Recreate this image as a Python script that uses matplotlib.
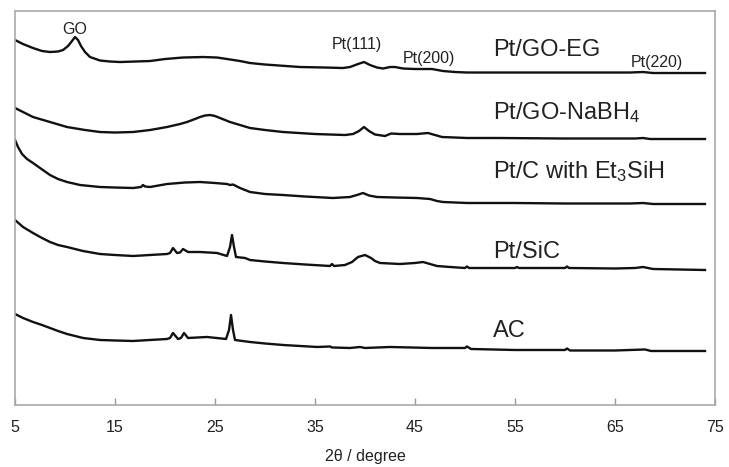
import numpy as np
import matplotlib
matplotlib.use("Agg")
import matplotlib.pyplot as plt

plt.rcParams['font.family'] = ['Liberation Sans', 'DejaVu Sans']
plt.rcParams['mathtext.fontset'] = 'custom'
plt.rcParams['mathtext.rm'] = 'Liberation Sans'
plt.rcParams['mathtext.default'] = 'regular'

# values; intensity in arbitrary (stacked) units
tt_go_eg = [5, 5.8, 6.8, 7.7, 8.5, 9.3, 9.8, 10.3, 10.7, 11, 11.3, 11.6, 12, 12.5, 13.5,
            14.5, 15.5, 17, 18.5, 20, 21.8, 23.8, 25.2, 26.2, 27.5, 28.5, 30, 33.5, 36,
            37.8, 38.5, 39.3, 39.9, 40.5, 41.2, 41.8, 42.5, 43, 43.8, 45, 46.2, 46.7, 47.8,
            49, 50.2, 53.5, 60, 66.5, 67.8, 68.8, 74]
i_go_eg = [365, 361, 357, 354, 353, 353.5, 355, 359, 364, 368, 365, 359, 353, 348, 344.5,
           343.5, 343, 343.5, 344, 346, 347.5, 348, 347.5, 346, 344, 342, 340.5, 338, 337.5,
           337, 338, 341, 343, 340, 337.5, 336.5, 338, 338, 336.5, 336, 336, 336, 334,
           333, 332.5, 332.5, 332.5, 332.5, 333, 332, 332]

tt_nabh4 = [5, 5.8, 6.8, 8.5, 10.2, 12, 13.5, 15, 16.8, 18.5, 20.2, 21.5, 22.2, 23, 23.5,
            24, 24.5, 25, 25.5, 26.5, 27.5, 28.5, 30, 31.8, 35, 38, 38.8, 39.4, 39.9, 40.4,
            41, 42, 42.6, 43.5, 45.2, 46.3, 47, 47.7, 49, 50.2, 53.5, 60, 67, 67.8, 68.5, 74]
i_nabh4 = [297, 293, 288, 283, 278, 275, 273, 272.5, 273, 275, 278, 281, 283, 286, 288,
           289.5, 290, 289, 287, 283, 280, 277, 275, 273, 271, 270, 271, 274, 278, 274,
           270.5, 269, 271.5, 271, 271, 272, 270, 268, 267.5, 267, 267, 266.5, 266.5, 267, 266, 266]

tt_et3sih = [5, 5.3, 5.7, 6.2, 6.8, 7.5, 8.5, 9.3, 10.2, 11.5, 13.5, 15, 16.8, 17.6, 17.8,
             18, 18.5, 20.2, 22, 23.5, 25, 26.2, 26.5, 26.8, 27.5, 28.5, 30, 31.8, 34,
             36.8, 38.5, 39.2, 39.8, 40.4, 41.2, 43, 45.2, 46.5, 47.2, 47.8, 50.2, 55, 60,
             66.5, 67.8, 68.8, 74]
i_et3sih = [265, 258, 251, 246, 242, 237, 230, 226, 223, 220, 218, 217.5, 217, 218, 220,
            218.5, 218, 221, 222.5, 223, 222, 221, 220, 220.5, 217, 213, 211, 210, 208.5,
            207, 208, 210, 212, 209.5, 208, 207.5, 207, 206, 204, 203, 202, 202, 201.5,
            201.5, 202, 201, 201]

tt_sic = [5, 5.8, 6.8, 7.7, 8.5, 9.3, 10.2, 11.8, 13.5, 15, 16.8, 18.5, 20.2, 20.5, 20.8,
          21.2, 21.5, 21.8, 22.3, 23.5, 25.2, 26.2, 26.5, 26.7, 26.9, 27.1, 28, 28.5, 30,
          31.8, 34, 36.5, 36.7, 36.9, 38, 38.7, 39.3, 40, 40.6, 41, 41.5, 43.5, 45, 45.8,
          46.5, 47.2, 48.5, 50, 50.2, 50.4, 53, 55, 55.2, 55.4, 60, 60.2, 60.4, 65, 67,
          67.8, 68.8, 74]
i_sic = [185, 178, 172, 167, 163, 160, 158, 154, 151, 150, 149, 150, 151, 152, 157,
         152, 152.5, 156, 153, 153, 152, 149, 158, 170, 158, 148, 147, 145, 143.5,
         142, 140.5, 139, 141, 139, 140, 143, 148, 150, 147, 144, 142, 141, 142, 143,
         141, 139, 138, 137, 138.5, 137, 137, 137, 138, 137, 137, 138.5, 137, 136.5, 137,
         138, 136, 135]

tt_ac = [5, 5.8, 6.8, 7.7, 8.5, 9.3, 10.2, 11.8, 13.5, 15, 16.8, 18.5, 20.2, 20.5, 20.8,
         21.3, 21.6, 21.9, 22.3, 24.2, 26.1, 26.4, 26.6, 26.8, 27, 28.5, 30, 31.8, 35.2,
         36.5, 36.7, 38.5, 39.5, 40, 42.5, 46.7, 50, 50.2, 50.6, 55, 60, 60.2, 60.5, 65,
         68, 68.6, 74]
i_ac = [91, 87, 83, 80, 77, 74, 71, 67, 65, 64.5, 64, 65, 66, 67, 72,
        66, 67, 72, 67, 68, 66, 75, 90, 75, 65, 63, 61.5, 60, 58,
        58.5, 57.5, 57, 58, 57, 58, 57, 57, 58.5, 56, 55, 55, 56.5, 54.5, 54.5,
        55.5, 54, 54]

series = [(tt_go_eg, i_go_eg), (tt_nabh4, i_nabh4), (tt_et3sih, i_et3sih),
          (tt_sic, i_sic), (tt_ac, i_ac)]

sample_labels = ['Pt/GO-EG', 'Pt/GO-NaBH$_4$', 'Pt/C with Et$_3$SiH', 'Pt/SiC', 'AC']
sample_label_y = [355, 292, 233, 153, 74]

peak_labels = ['GO', 'Pt(111)', 'Pt(200)', 'Pt(220)']
peak_x = [11, 39.2, 46.4, 69.2]
peak_y = [376, 361, 347, 343]

fig = plt.figure(figsize=(7.29, 4.67), dpi=100)
ax = fig.add_axes([0.0206, 0.1328, 0.9602, 0.8436])

for tt, inten in series:
    ax.plot(tt, inten, color='#111111', lw=1.7, solid_joinstyle='round')

for lab, y in zip(sample_labels, sample_label_y):
    ax.text(52.8, y, lab, fontsize=17, color='#222222', ha='left', va='center')

for lab, x, y in zip(peak_labels, peak_x, peak_y):
    ax.text(x, y, lab, fontsize=11.5, color='#222222', ha='center', va='center')

ax.set_xlim(5, 75)
ax.set_ylim(0, 394)
ax.set_xticks(np.arange(5, 76, 10))
ax.set_yticks([])
ax.tick_params(axis='x', direction='in', length=5, width=1, color='#999999',
               labelsize=11.5, labelcolor='#222222', pad=11)
for s in ax.spines.values():
    s.set_color('#aaaaaa')
    s.set_linewidth(1.2)
ax.set_xlabel('2θ / degree', fontsize=11.5, color='#222222', labelpad=10)

fig.savefig('out.png', dpi=100)
